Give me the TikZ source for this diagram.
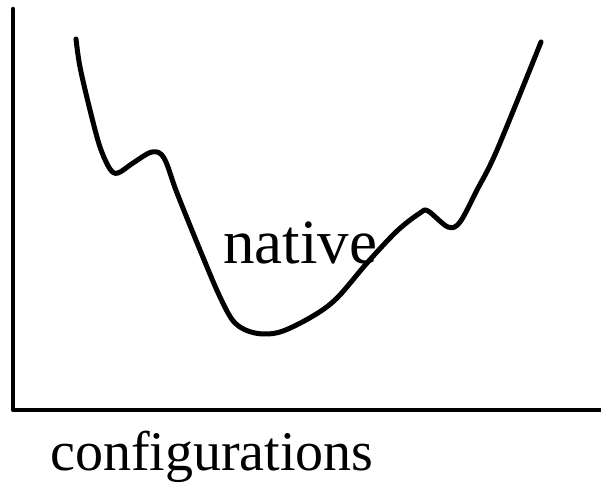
\documentclass[tikz,border=0pt]{standalone}
\usepackage{fontspec}
\setmainfont{Liberation Serif}
\usepackage{tikz}

\begin{document}
\begin{tikzpicture}[x=1pt, y=-1pt, axis/.style={line width=4.5pt, line cap=round, line join=round}, energy/.style={line width=5pt, line cap=round, line join=round}, lbl/.style={anchor=base, inner sep=0pt}]
\useasboundingbox (0,0) rectangle (601,483);
% axes
\coordinate (top) at (13,9);
\coordinate (origin) at (13,410);
\coordinate (right) at (601,410);
\draw[axis] (top) -- (origin) -- (right);
% energy landscape
\draw[energy] plot[smooth, tension=0.55] coordinates {(76,39) (80,67) (90,110) (100,147) (110,169) (118,173) (133,163) (152,152) (164,158) (177,193) (200,250) (220,297) (235,323) (255,333) (280,332) (313,316) (337,298) (367,263) (397,231) (420,213) (428,211) (448,227) (460,222) (477,190) (497,150) (541,42)};
% labels
\node[lbl, font=\fontsize{63}{70}\selectfont] (native) at (300,263) {native};
\node[lbl, font=\fontsize{56}{64}\selectfont] (conf) at (212,470) {configurations};
\end{tikzpicture}
\end{document}
